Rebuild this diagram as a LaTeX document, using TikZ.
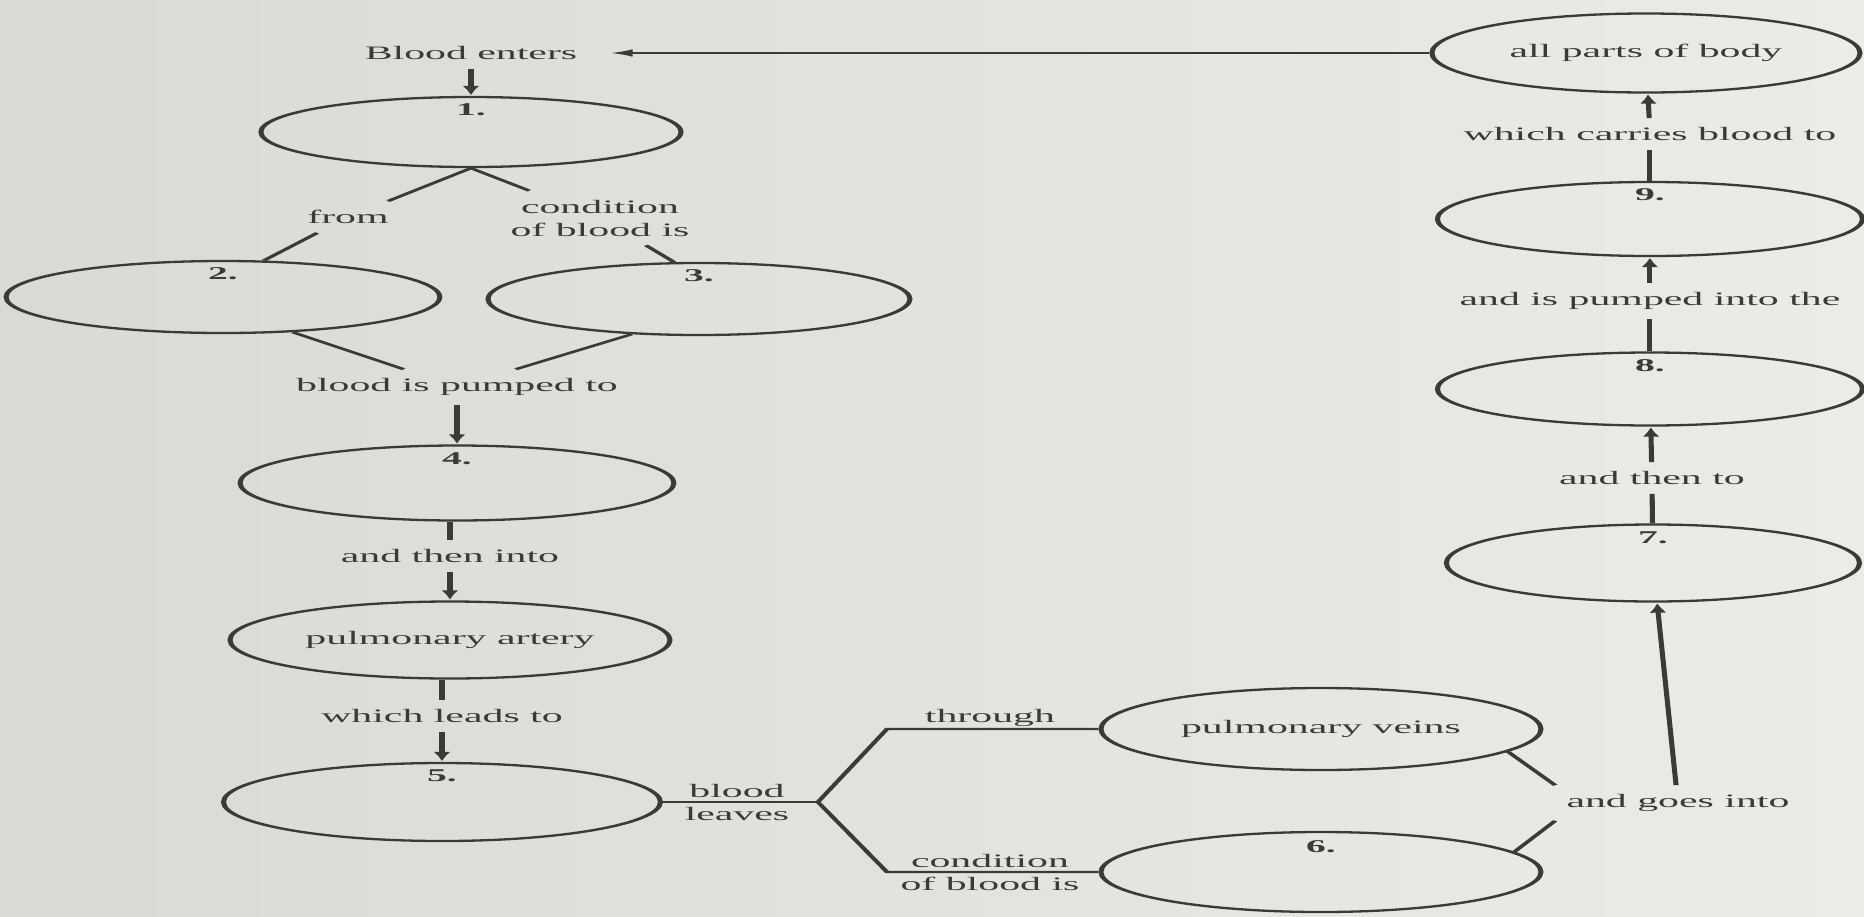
\documentclass[tikz,border=0pt]{standalone}
\usepackage{fontspec}
\setmainfont{Liberation Serif}
\usetikzlibrary{shapes.geometric,positioning,arrows.meta}

\definecolor{paperdark}{RGB}{218,217,214}
\definecolor{paperlight}{RGB}{236,235,232}
\definecolor{ink}{RGB}{60,58,56}

\begin{document}
\begin{tikzpicture}[x=0.5pt, y=-0.5pt]
  \useasboundingbox (0,0) rectangle (1864,916);
  \shade[left color=paperdark, right color=paperlight] (0,0) rectangle (1864,916);

  % the page is photographed wide, so everything is stretched sideways
  \begin{scope}[transform canvas={xscale=2.2}, x=0.22727pt, y=-0.5pt, ink,
      line width=1.15pt, >={Latex[length=5pt,width=3.8pt]},
      cell/.style={draw, ellipse, inner sep=0pt, minimum width=97pt, minimum height=37pt,
        font=\fontsize{9.5}{11.5}\selectfont},
      lbl/.style={font=\fontsize{9.5}{11.5}\selectfont, inner xsep=2pt, inner ysep=4pt, align=center},
      num/.style={font=\fontsize{9}{10}\selectfont\bfseries, inner sep=0pt}]

    % left column
    \node[lbl] (tenter) at (471,53) {Blood enters};
    \node[cell, minimum width=95.5pt, minimum height=35pt] (e1) at (471,132) {};
    \node[lbl] (tfrom) at (348,217) {from};
    \node[lbl] (tcond) at (600,218) {condition\\of blood is};
    \node[cell, minimum width=98.6pt, minimum height=36pt] (e2) at (223,297) {};
    \node[cell, minimum width=95.9pt, minimum height=36pt] (e3) at (699,299) {};
    \node[lbl] (tpump) at (457,387) {blood is pumped to};
    \node[cell, minimum width=98.6pt, minimum height=37.5pt] (e4) at (457,483) {};
    \node[lbl] (tthen) at (450,556) {and then into};
    \node[cell, minimum width=100pt, minimum height=38.5pt] (eart) at (450,640) {pulmonary artery};
    \node[lbl] (tleads) at (442,716) {which leads to};
    \node[cell, minimum width=99.3pt, minimum height=39pt] (e5) at (442,802) {};

    % bottom branch
    \node[lbl] (tleave) at (737,802) {blood\\leaves};
    \coordinate (fork) at (818,802);
    \coordinate (forkup) at (887,729);
    \coordinate (forkdn) at (887,872);
    \node[lbl] (tthrough) at (990,718) {through};
    \node[lbl] (tcond6) at (990,872) {condition\\of blood is};
    \node[cell, minimum width=100pt, minimum height=41pt] (eveins) at (1321,729) {pulmonary veins};
    \node[cell, minimum width=100pt, minimum height=40pt] (e6) at (1321,872) {};
    \node[lbl] (tgoes) at (1678,803) {and goes into};

    % right column
    \node[cell, minimum width=93.9pt, minimum height=38.5pt] (e7) at (1653,563) {};
    \node[lbl] (tthento) at (1652,478) {and then to};
    \node[cell, minimum width=96.6pt, minimum height=36.5pt] (e8) at (1650,389) {};
    \node[lbl] (tpumpin) at (1650,301) {and is pumped into the};
    \node[cell, minimum width=96.6pt, minimum height=37pt] (e9) at (1650,219) {};
    \node[lbl] (tcarries) at (1650,134) {which carries blood to};
    \node[cell, minimum width=97.3pt, minimum height=39.5pt] (eall) at (1646,53) {all parts of body};

    % numbers
    \node[num, below=3.5pt of e1.north] (n1) {1.};
    \node[num, below=3.5pt of e2.north] (n2) {2.};
    \node[num, below=3.5pt of e3.north] (n3) {3.};
    \node[num, below=3.5pt of e4.north] (n4) {4.};
    \node[num, below=3.5pt of e5.north] (n5) {5.};
    \node[num, below=4.5pt of e6.north] (n6) {6.};
    \node[num, below=3.5pt of e7.north] (n7) {7.};
    \node[num, below=3.5pt of e8.north] (n8) {8.};
    \node[num, below=3.5pt of e9.north] (n9) {9.};

    % connectors
    \draw[->, shorten >=5pt] (eall) -- (tenter);
    \draw[->] (tenter) -- (e1);
    \draw (e1.south) -- (tfrom);
    \draw (tfrom) -- (e2.63);
    \draw (e1.south) -- (tcond);
    \draw (tcond) -- (e3.107);
    \draw (e2.-48) -- (tpump);
    \draw (e3.-131) -- (tpump);
    \draw[->] (tpump) -- (e4);
    \draw (e4.south -| tthen) -- (tthen);
    \draw[->] (tthen) -- (eart);
    \draw (eart.south -| tleads) -- (tleads);
    \draw[->] (tleads) -- (e5);
    \draw (e5) -- (fork);
    \draw (fork) -- (forkup) -- (eveins);
    \draw (fork) -- (forkdn) -- (e6);
    \draw (eveins.-15) -- (tgoes.north west);
    \draw (e6.13) -- (tgoes.south west);
    \draw[->] (tgoes) -- (e7);
    \draw (e7) -- (tthento);
    \draw[->] (tthento) -- (e8);
    \draw (e8) -- (tpumpin);
    \draw[->] (tpumpin) -- (e9);
    \draw (e9) -- (tcarries);
    \draw[->] (tcarries) -- (eall);
  \end{scope}
\end{tikzpicture}
\end{document}
